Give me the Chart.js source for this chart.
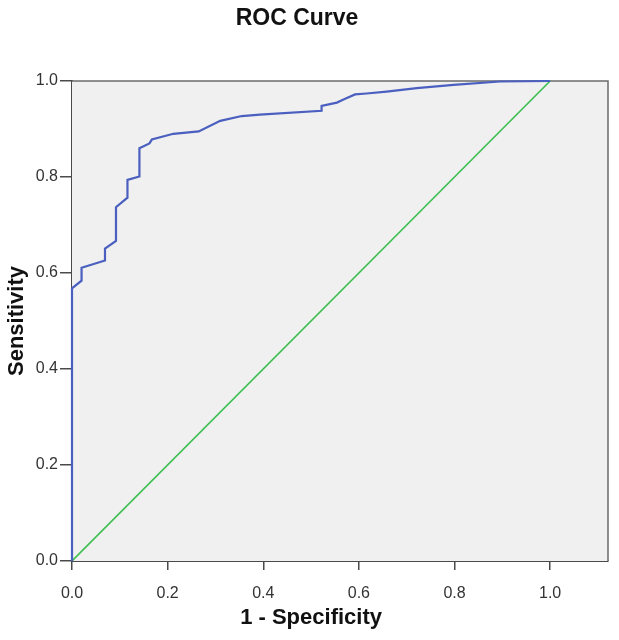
<!DOCTYPE html>
<html>
<head>
<meta charset="utf-8">
<script src="https://cdn.jsdelivr.net/npm/chart.js@4.4.1/dist/chart.umd.min.js"></script>
<style>
  html, body { margin: 0; padding: 0; background: #ffffff; }
  #wrap { width: 619px; height: 640px; }
</style>
</head>
<body>
<div id="wrap"><canvas id="roc-chart"></canvas></div>
<script>
// Dữ liệu
const chartTitle = 'ROC Curve';
const xAxisTitle = '1 - Specificity';
const yAxisTitle = 'Sensitivity';
const tickValues = [0, 0.2, 0.4, 0.6, 0.8, 1.0];

// 1 - Specificity (false positive rate)
const fprValues = [0, 0, 0.020, 0.020, 0.069, 0.069, 0.092, 0.092, 0.116, 0.116, 0.141, 0.141,
  0.162, 0.167, 0.212, 0.265, 0.310, 0.355, 0.393, 0.522, 0.522, 0.554, 0.569, 0.592,
  0.616, 0.658, 0.721, 0.798, 0.895, 1.0];
// Sensitivity (true positive rate)
const tprValues = [0, 0.568, 0.584, 0.611, 0.626, 0.651, 0.667, 0.737, 0.757, 0.794, 0.801, 0.860,
  0.870, 0.878, 0.890, 0.895, 0.917, 0.927, 0.930, 0.938, 0.948, 0.955, 0.962, 0.972,
  0.974, 0.978, 0.985, 0.992, 0.999, 1.0];

// Đường tham chiếu
const refX = [0, 1];
const refY = [0, 1];

const fontFamily = "'Liberation Sans', Arial, sans-serif";

function toPoints(xs, ys) {
  return xs.map((x, i) => ({ x: x, y: ys[i] }));
}

// Nền xám + khung của vùng vẽ, và các tiêu đề
const plotFrame = {
  id: 'plotFrame',
  beforeDatasetsDraw(chart) {
    const { ctx, chartArea: a } = chart;
    ctx.save();
    ctx.fillStyle = '#f0f0f0';
    ctx.fillRect(a.left, a.top, a.right - a.left, a.bottom - a.top);
    ctx.strokeStyle = '#6b6b6b';
    ctx.lineWidth = 1.5;
    ctx.beginPath();
    ctx.moveTo(a.left, a.top);
    ctx.lineTo(a.right, a.top);
    ctx.lineTo(a.right, a.bottom);
    ctx.stroke();
    ctx.restore();
  },
  afterDraw(chart) {
    const { ctx, chartArea: a, scales } = chart;
    const midX = (scales.x.getPixelForValue(0) + scales.x.getPixelForValue(1)) / 2;
    ctx.save();
    ctx.fillStyle = '#111111';
    ctx.textAlign = 'center';
    ctx.textBaseline = 'middle';
    ctx.font = 'bold 23px ' + fontFamily;
    ctx.fillText(chartTitle, 297, 19);
    ctx.font = 'bold 22px ' + fontFamily;
    ctx.fillText(xAxisTitle, midX, 618);
    ctx.translate(17, (a.top + a.bottom) / 2);
    ctx.rotate(-Math.PI / 2);
    ctx.fillText(yAxisTitle, 0, 0);
    ctx.restore();
  }
};

new Chart(document.getElementById('roc-chart'), {
  type: 'scatter',
  data: {
    datasets: [{
      label: 'ROC',
      data: toPoints(fprValues, tprValues),
      showLine: true,
      borderColor: '#4a5fbf',
      borderWidth: 2.2,
      pointRadius: 0,
      tension: 0,
      clip: 3
    }, {
      label: 'Reference',
      data: toPoints(refX, refY),
      showLine: true,
      borderColor: '#3fbf52',
      borderWidth: 1.6,
      pointRadius: 0
    }]
  },
  options: {
    responsive: true,
    maintainAspectRatio: false,
    animation: false,
    layout: { padding: { top: 81, right: 11, left: 0, bottom: 0 } },
    plugins: {
      legend: { display: false },
      tooltip: { enabled: false }
    },
    scales: {
      x: {
        type: 'linear',
        min: 0,
        max: 1.121,
        afterFit(scale) { scale.height = 79; },
        afterBuildTicks(scale) { scale.ticks = tickValues.map(v => ({ value: v })); },
        border: { display: true, color: '#4a4a4a', width: 2 },
        grid: { drawOnChartArea: false, drawTicks: true, tickLength: 9, color: '#4a4a4a', lineWidth: 1.5 },
        ticks: {
          padding: 14,
          color: '#333333',
          font: { family: fontFamily, size: 16 },
          callback: v => v.toFixed(1)
        }
      },
      y: {
        type: 'linear',
        min: 0,
        max: 1,
        afterFit(scale) { scale.width = 72; },
        afterBuildTicks(scale) { scale.ticks = tickValues.map(v => ({ value: v })); },
        border: { display: true, color: '#4a4a4a', width: 2 },
        grid: { drawOnChartArea: false, drawTicks: true, tickLength: 12, color: '#4a4a4a', lineWidth: 1.5 },
        ticks: {
          padding: 2,
          color: '#333333',
          font: { family: fontFamily, size: 16 },
          callback: v => v.toFixed(1)
        }
      }
    }
  },
  plugins: [plotFrame]
});
</script>
</body>
</html>
